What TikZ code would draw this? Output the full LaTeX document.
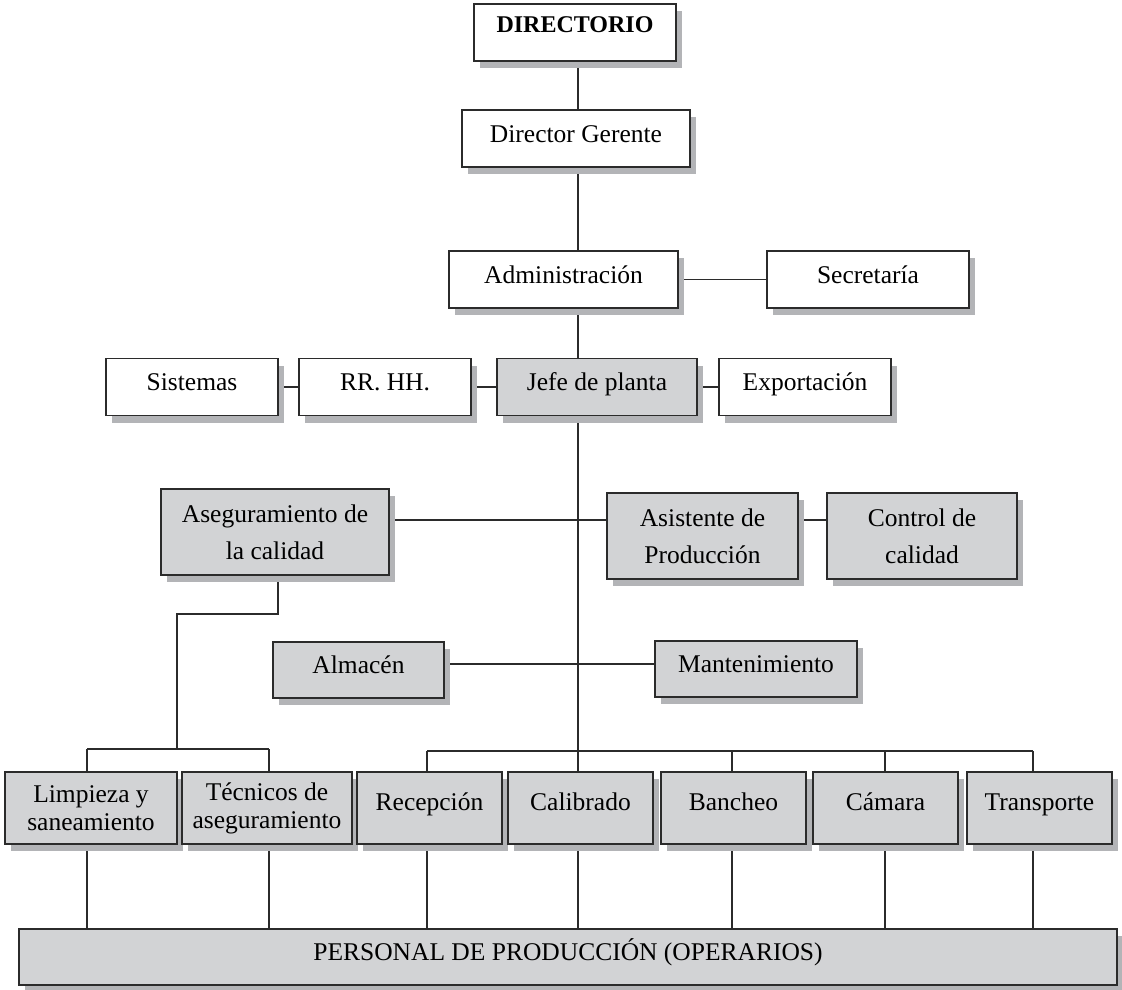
\documentclass[tikz,border=0pt]{standalone}
\usepackage{fontspec}
\setmainfont{Liberation Serif}
\usetikzlibrary{shadows,backgrounds}

\definecolor{boxgray}{HTML}{D2D3D5}
\definecolor{shadowgray}{HTML}{B3B4B7}
\definecolor{inkline}{HTML}{2B2B2B}

\tikzset{
  unitbox/.style={draw=inkline, line width=1.2pt, inner sep=2pt, align=center,
    font=\fontsize{25.5}{28}\selectfont,
    general shadow={fill=shadowgray, shadow xshift=6pt, shadow yshift=-7pt}},
  whitebox/.style={unitbox, fill=white},
  graybox/.style={unitbox, fill=boxgray},
  oneline/.style={text height=18pt, text depth=11pt},
  lowline/.style={text height=18pt, text depth=14pt},
  widelines/.style={font=\fontsize{25.5}{37}\selectfont},
  sz/.style 2 args={minimum width=#1pt, minimum height=#2pt},
  wire/.style={draw=inkline, line width=1.2pt},
}

\begin{document}
\begin{tikzpicture}[x=1pt, y=-1pt]
\useasboundingbox (0,0) rectangle (1122,990);

% top of the chart
\node[whitebox, sz={202}{57}, font=\fontsize{24}{28}\selectfont\bfseries, text height=18pt, text depth=17pt] (dir) at (575,32.5) {DIRECTORIO};
\node[whitebox, oneline, sz={228}{57}] (dg)  at (576,138.5) {Director Gerente};
\node[whitebox, oneline, sz={229}{57}] (adm) at (563.5,279.5) {Administración};
\node[whitebox, oneline, sz={202}{57}] (sec) at (868,279.5) {Secretaría};

% plant management row
\node[whitebox, oneline, sz={172}{57}] (sis)  at (192,387) {Sistemas};
\node[whitebox, oneline, sz={172}{57}] (rrhh) at (385,387) {RR. HH.};
\node[graybox,  oneline, sz={200}{57}] (jefe) at (597,387) {Jefe de planta};
\node[whitebox, oneline, sz={172}{57}] (exp)  at (805,387) {Exportación};

% quality and production assistants
\node[graybox, widelines, sz={228}{86}] (ase) at (275,532) {Aseguramiento de\\la calidad};
\node[graybox, widelines, sz={191}{86}] (asi) at (702.5,536) {Asistente de\\Producción};
\node[graybox, widelines, sz={190}{86}] (ctl) at (922,536) {Control de\\calidad};

% support areas
\node[graybox, oneline, sz={171}{56}] (alm) at (358.5,670) {Almacén};
\node[graybox, oneline, sz={202}{56}] (man) at (756,669) {Mantenimiento};

% operative areas
\node[graybox, sz={172}{72}] (lim) at (91,808)     {Limpieza y\\saneamiento};
\node[graybox, sz={170}{72}] (tec) at (267,808)    {Técnicos de\\aseguramiento};
\node[graybox, lowline, sz={145}{72}] (rec) at (429.5,808)  {Recepción};
\node[graybox, lowline, sz={145}{72}] (cal) at (580.5,808)  {Calibrado};
\node[graybox, lowline, sz={145}{72}] (ban) at (733.5,808)  {Bancheo};
\node[graybox, lowline, sz={145}{72}] (cam) at (885.5,808)  {Cámara};
\node[graybox, lowline, sz={145}{72}] (tra) at (1039.5,808) {Transporte};

\node[graybox, oneline, sz={1098}{56}] (per) at (568,957) {PERSONAL DE PRODUCCIÓN (OPERARIOS)};

% junction points of the connectors
\coordinate (spine) at (578,0);
\coordinate (qa)    at (0,520);
\coordinate (st)    at (0,664);
\coordinate (bendA) at (278,614);
\coordinate (bendB) at (177,614);
\coordinate (barL)  at (177,749);
\coordinate (dl1) at (87,749);
\coordinate (dl2) at (269,749);
\coordinate (dr1) at (427,751);
\coordinate (dr2) at (578,751);
\coordinate (dr3) at (732,751);
\coordinate (dr4) at (885,751);
\coordinate (dr5) at (1033,751);

\begin{scope}[on background layer]
  % main vertical line
  \draw[wire] (spine |- dir.south) -- (spine |- dg.north);
  \draw[wire] (spine |- dg.south) -- (spine |- adm.north);
  \draw[wire] (spine |- adm.south) -- (spine |- jefe.north);
  \draw[wire] (spine |- jefe.south) -- (dr2);

  % side branches
  \draw[wire] (adm.east) -- (sec.west);
  \draw[wire] (sis.east) -- (rrhh.west);
  \draw[wire] (rrhh.east) -- (jefe.west);
  \draw[wire] (jefe.east) -- (exp.west);
  \draw[wire] (ase.east |- qa) -- (asi.west |- qa);
  \draw[wire] (asi.east |- qa) -- (ctl.west |- qa);
  \draw[wire] (alm.east |- st) -- (man.west |- st);

  % quality assurance branch
  \draw[wire] (bendA |- ase.south) -- (bendA) -- (bendB) -- (barL);
  \draw[wire] (dl1) -- (dl2);
  \draw[wire] (dl1) -- (dl1 |- lim.north);
  \draw[wire] (dl2) -- (dl2 |- tec.north);

  % production branch
  \draw[wire] (dr1) -- (dr5);
  \foreach \d/\b in {dr1/rec, dr2/cal, dr3/ban, dr4/cam, dr5/tra}
    \draw[wire] (\d) -- (\d |- \b.north);

  % links down to the operators
  \foreach \d/\b in {dl1/lim, dl2/tec, dr1/rec, dr2/cal, dr3/ban, dr4/cam, dr5/tra}
    \draw[wire] (\d |- \b.south) -- (\d |- per.north);
\end{scope}
\end{tikzpicture}
\end{document}
